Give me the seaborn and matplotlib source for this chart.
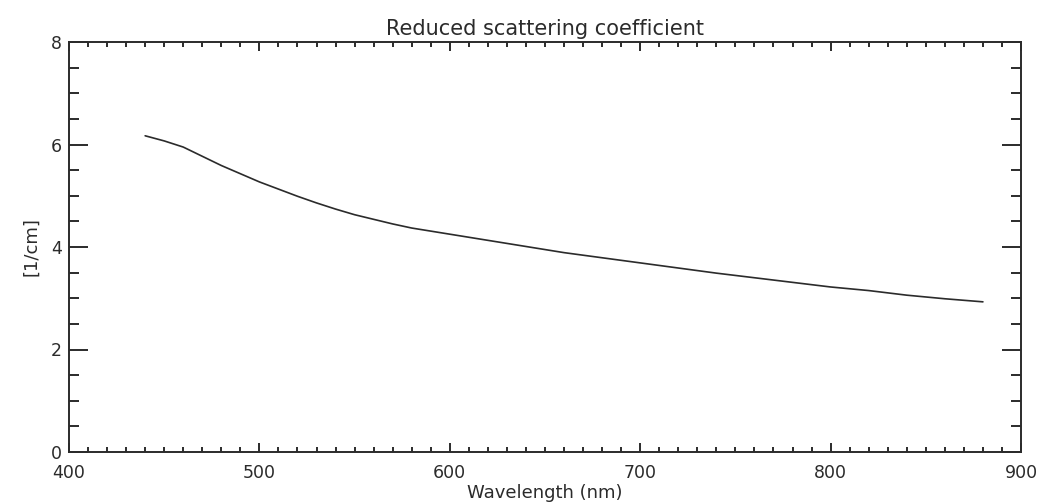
import pandas as pd
import matplotlib
matplotlib.use("Agg")
import matplotlib.pyplot as plt
import seaborn as sns
from matplotlib.ticker import MultipleLocator

# values
wavelength = [440, 450, 460, 470, 480, 490, 500, 510, 520, 530, 540, 550,
              560, 570, 580, 590, 600, 620, 640, 660, 680, 700, 720, 740,
              760, 780, 800, 820, 840, 860, 880]
mus = [6.17, 6.07, 5.95, 5.77, 5.59, 5.43, 5.27, 5.13, 4.99, 4.86, 4.74, 4.63,
       4.54, 4.45, 4.37, 4.31, 4.25, 4.13, 4.01, 3.89, 3.79, 3.69, 3.59, 3.49,
       3.40, 3.31, 3.22, 3.15, 3.06, 2.99, 2.93]

data = pd.DataFrame({"wl": wavelength, "mus": mus})

sns.set_style("ticks")
plt.rcParams['font.family'] = ['DejaVu Sans']
ink = "#2b2b2b"

fig = plt.figure(figsize=(10.41, 5.03), dpi=100)
ax = fig.add_axes([69 / 1041, 51 / 503, 952 / 1041, 410 / 503])

sns.lineplot(ax=ax, data=data, x="wl", y="mus", color=ink, linewidth=1.2)

ax.set_xlim(400, 900)
ax.set_ylim(0, 8)
ax.xaxis.set_major_locator(MultipleLocator(100))
ax.xaxis.set_minor_locator(MultipleLocator(10))
ax.yaxis.set_major_locator(MultipleLocator(2))
ax.yaxis.set_minor_locator(MultipleLocator(0.5))

for s in ax.spines.values():
    s.set_visible(True)
    s.set_color(ink)
    s.set_linewidth(1.4)

ax.tick_params(axis="both", which="both", direction="in", top=True, right=True,
               color=ink, width=1.4, labelcolor=ink)
ax.tick_params(axis="x", which="major", length=6.5, pad=9, labelsize=12.5)
ax.tick_params(axis="x", which="minor", length=3.6)
ax.tick_params(axis="y", which="major", length=14, pad=5, labelsize=12.5)
ax.tick_params(axis="y", which="minor", length=7)

ax.set_title("Reduced scattering coefficient", fontsize=15, color=ink, pad=5)
ax.set_xlabel("Wavelength (nm)", fontsize=13, color=ink, labelpad=1)
ax.set_ylabel("[1/cm]", fontsize=13, color=ink, labelpad=8)

fig.savefig("out.png", dpi=100)
